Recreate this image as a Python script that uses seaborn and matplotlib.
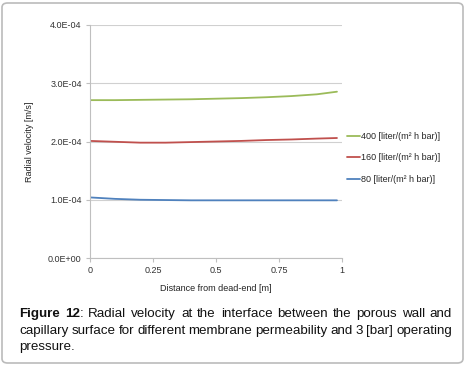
import numpy as np
import pandas as pd
import seaborn as sns
import matplotlib.pyplot as plt
from matplotlib.ticker import FuncFormatter, FixedLocator
from matplotlib.patches import FancyBboxPatch

# distance from dead-end [m]
distance = [0, 0.1, 0.2, 0.3, 0.4, 0.5, 0.6, 0.7, 0.8, 0.9, 0.98]

# radial velocity [m/s] for each permeability
v_400 = [2.71e-4, 2.71e-4, 2.715e-4, 2.72e-4, 2.725e-4, 2.735e-4, 2.745e-4, 2.76e-4, 2.78e-4, 2.81e-4, 2.855e-4]
v_160 = [2.01e-4, 1.995e-4, 1.98e-4, 1.98e-4, 1.99e-4, 2.0e-4, 2.01e-4, 2.025e-4, 2.035e-4, 2.05e-4, 2.06e-4]
v_80 = [1.04e-4, 1.015e-4, 1.0e-4, 0.995e-4, 0.99e-4, 0.99e-4, 0.99e-4, 0.99e-4, 0.99e-4, 0.99e-4, 0.99e-4]

labels = ["400 [liter/(m² h bar)]", "160 [liter/(m² h bar)]", "80 [liter/(m² h bar)]"]
colors = ["#9BBB59", "#C0504D", "#4F81BD"]

x_ticks = [0, 0.25, 0.5, 0.75, 1]
y_ticks = [0, 1e-4, 2e-4, 3e-4, 4e-4]

caption_lines = [
    "Radial velocity at the interface between the porous wall and",
    "capillary surface for different membrane permeability and 3 [bar] operating",
    "pressure.",
]

df = pd.concat([
    pd.DataFrame({"x": distance, "v": vals, "series": lab})
    for vals, lab in zip([v_400, v_160, v_80], labels)
])

sns.set_style("white")
plt.rcParams["font.family"] = ["Liberation Sans", "DejaVu Sans"]

W, H = 466, 365
fig = plt.figure(figsize=(W / 100, H / 100), dpi=100)
ax = fig.add_axes([90 / W, 1 - 258 / H, (342 - 90) / W, (258 - 25) / H])

sns.lineplot(data=df, x="x", y="v", hue="series", hue_order=labels,
             palette=colors, linewidth=1.3, ax=ax, legend=True)

ax.set_xlim(0, 1)
ax.set_ylim(0, 4e-4)
ax.yaxis.set_major_locator(FixedLocator(y_ticks))
ax.xaxis.set_major_locator(FixedLocator(x_ticks))
ax.yaxis.set_major_formatter(FuncFormatter(lambda v, p: f"{v:.1E}"))
ax.xaxis.set_major_formatter(FuncFormatter(lambda v, p: f"{v:g}"))
ax.grid(axis="y", color="#D0D0D0", linewidth=0.8)
ax.set_axisbelow(True)
for s in ["top", "right"]:
    ax.spines[s].set_visible(False)
for s in ["left", "bottom"]:
    ax.spines[s].set_color("#BFBFBF")
    ax.spines[s].set_linewidth(0.8)
ax.tick_params(axis="both", labelsize=6.5, colors="#333333", length=3,
               width=0.8, direction="out", pad=3)
ax.tick_params(axis="both", color="#BFBFBF")
ax.tick_params(axis="x", bottom=True)
ax.tick_params(axis="y", left=True)
ax.set_xlabel("Distance from dead-end [m]", fontsize=6.5, color="#222222", labelpad=6)
ax.set_ylabel("Radial velocity [m/s]", fontsize=6.5, color="#222222", labelpad=10)

leg = ax.legend(loc="center left", bbox_to_anchor=(1.0, 0.43), frameon=False,
                fontsize=6.5, handlelength=1.4, handletextpad=0.1,
                labelspacing=1.4, borderaxespad=0.2)
for line in leg.get_lines():
    line.set_linewidth(1.3)

# rounded border round the figure
fig.patches.append(FancyBboxPatch((2 / W, 2 / H), (W - 5) / W, (H - 5) / H,
                                  boxstyle="round,pad=0,rounding_size=0.012",
                                  transform=fig.transFigure, facecolor="none",
                                  edgecolor="#BBBBBB", linewidth=1.2))

# justified caption
renderer = fig.canvas.get_renderer()
x0, x1 = 19, 452
fs = 9.6


def place_line(tokens, y):
    widths = []
    objs = []
    for segs in tokens:
        tw = 0
        group = []
        for txt, wt in segs:
            t = fig.text(0, 1 - y / H, txt, fontsize=fs, fontweight=wt,
                         color="#111111", va="center", ha="left")
            w = t.get_window_extent(renderer).width
            group.append((t, tw))
            tw += w
        objs.append(group)
        widths.append(tw)
    gap = (x1 - x0 - sum(widths)) / (len(tokens) - 1)
    x = x0
    for group, w in zip(objs, widths):
        for t, off in group:
            t.set_x((x + off) / W)
        x += w + gap


first = [[("Figure", "bold")], [("12", "bold"), (":", "normal")]]
first += [[(w, "normal")] for w in caption_lines[0].split()]
place_line(first, 314)
place_line([[(w, "normal")] for w in caption_lines[1].split()], 331)
fig.text(x0 / W, 1 - 347 / H, caption_lines[2], fontsize=fs, color="#111111",
         va="center", ha="left")

fig.savefig("out.png", dpi=100)
